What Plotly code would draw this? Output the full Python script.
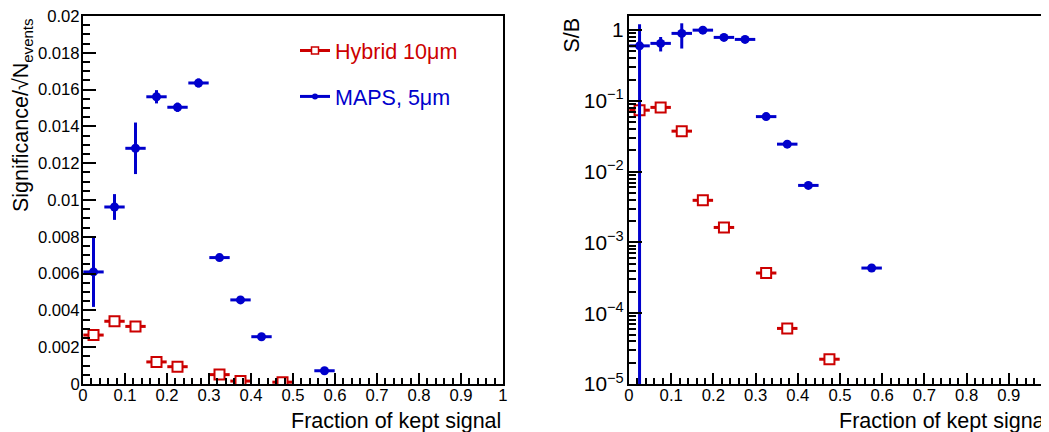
import plotly.graph_objects as go

# ---- data ----
x_half = 0.025

# Significance / sqrt(N_events)
maps_sig_x = [0.025, 0.075, 0.125, 0.175, 0.225, 0.275, 0.325, 0.375, 0.425, 0.575]
maps_sig = [0.00609, 0.00962, 0.01281, 0.01561, 0.01504, 0.01636, 0.00687, 0.00457, 0.00257, 0.00072]
maps_sig_err = [0.0019, 0.0007, 0.0014, 0.00036, 0.00025, 0.00024, 0.0001, 0.0001, 0.0001, 0.0001]

hyb_sig_x = [0.025, 0.075, 0.125, 0.175, 0.225, 0.325, 0.375, 0.475]
hyb_sig = [0.00266, 0.00341, 0.00313, 0.00120, 0.00094, 0.00051, 0.00016, 0.00010]
hyb_sig_err = [0.0001, 0.0001, 0.0001, 0.0001, 0.0001, 0.0001, 0.00005, 0.00005]

# S/B
maps_sb_x = [0.025, 0.075, 0.125, 0.175, 0.225, 0.275, 0.325, 0.375, 0.425, 0.575]
maps_sb = [0.60, 0.65, 0.90, 1.00, 0.79, 0.74, 0.060, 0.0245, 0.0064, 0.000435]
maps_sb_err = [0.61, 0.15, 0.35, 0.05, 0.03, 0.03, 0.002, 0.0008, 0.0002, 0.00001]

hyb_sb_x = [0.025, 0.075, 0.125, 0.175, 0.225, 0.325, 0.375, 0.475]
hyb_sb = [0.074, 0.081, 0.0374, 0.00394, 0.00163, 0.00037, 0.000061, 0.0000224]
hyb_sb_err = [0.002, 0.002, 0.001, 0.0001, 0.00004, 0.00001, 0.000002, 0.000001]

RED = "#cc0000"
BLUE = "#0000cc"
FONT = "Liberation Sans, Arial, sans-serif"

# the page body adds an 8 px offset; layout below is in window pixels
OFF = 8
W, H = 1049 - OFF, 432 - OFF
L1, R1 = 83, 503
L2, R2 = 629, 1049
TOP, BOT = 16, 384


def fx(px):
    return (px - OFF) / W


def fy(px):
    return (BOT - px) / (BOT - TOP)


fig = go.Figure()


def add_series(x, y, err, xa, ya, color, symbol):
    marker = (dict(symbol="circle", size=9, color=color)
              if symbol == "circle" else
              dict(symbol="square", size=10, color="white", line=dict(color=color, width=2)))
    fig.add_trace(go.Scatter(
        x=x, y=y, mode="markers", xaxis=xa, yaxis=ya, showlegend=False,
        marker=marker,
        error_x=dict(type="constant", value=x_half * 0.97, thickness=3, width=0, color=color),
        error_y=dict(type="data", array=err, thickness=3, width=0, color=color),
        cliponaxis=True,
    ))


add_series(hyb_sig_x, hyb_sig, hyb_sig_err, "x", "y", RED, "square")
add_series(maps_sig_x, maps_sig, maps_sig_err, "x", "y", BLUE, "circle")
add_series(hyb_sb_x, hyb_sb, hyb_sb_err, "x2", "y2", RED, "square")
add_series(maps_sb_x, maps_sb, maps_sb_err, "x2", "y2", BLUE, "circle")

# legend entries
fig.add_trace(go.Scatter(x=[None], y=[None], mode="lines+markers",
                         name=f'<span style="color:{RED}">Hybrid 10μm</span>',
                         legendgroup="a",
                         line=dict(color=RED, width=3),
                         marker=dict(symbol="square", size=7, color="white", line=dict(color=RED, width=1.5))))
fig.add_trace(go.Scatter(x=[None], y=[None], mode="lines+markers",
                         name=f'<span style="color:{BLUE}">MAPS, 5μm</span>',
                         legendgroup="b",
                         line=dict(color=BLUE, width=3),
                         marker=dict(symbol="circle", size=6, color=BLUE)))

axis_common = dict(
    showgrid=False, zeroline=False, showline=True, linecolor="black", linewidth=2,
    mirror=True, ticks="inside", tickcolor="black", tickwidth=2,
    ticklabeloverflow="allow",
    tickfont=dict(family=FONT, size=16.7, color="black"),
)

fig.update_layout(
    width=W, height=H,
    margin=dict(l=0, r=0, t=TOP - OFF, b=(H + OFF) - BOT, autoexpand=False),
    paper_bgcolor="white", plot_bgcolor="white",
    font=dict(family=FONT, color="black"),
    xaxis=dict(domain=[fx(L1), fx(R1)], range=[0, 1], dtick=0.1, tick0=0, ticklen=11,
               ticklabelstandoff=-5,
               minor=dict(dtick=0.02, ticks="inside", ticklen=6, tickcolor="black", tickwidth=1.5),
               anchor="y", **axis_common),
    yaxis=dict(domain=[0, 1], range=[0, 0.02], dtick=0.002, tick0=0, ticklen=13,
               ticklabelstandoff=-2,
               minor=dict(dtick=0.0005, ticks="inside", ticklen=7, tickcolor="black", tickwidth=1.5),
               anchor="x", **axis_common),
    xaxis2=dict(domain=[fx(L2), 1.0], range=[0, 0.9953], dtick=0.1, tick0=0, ticklen=11,
                ticklabelstandoff=-5,
                minor=dict(dtick=0.02, ticks="inside", ticklen=6, tickcolor="black", tickwidth=1.5),
                anchor="y2", **axis_common),
    yaxis2=dict(domain=[0, 1], type="log", range=[-5, 0.2], dtick=1, ticklen=13,
                exponentformat="power", showexponent="all",
                minor=dict(ticks="inside", ticklen=7, tickcolor="black", tickwidth=1.5, dtick="D1"),
                anchor="x2", **axis_common),
    legend=dict(x=fx(295), y=fy(30), xanchor="left", yanchor="top",
                bgcolor="rgba(0,0,0,0)", borderwidth=0,
                font=dict(family=FONT, size=21.5),
                tracegroupgap=15, traceorder="grouped"),
)

ann = [
    dict(text="Fraction of kept signal", x=fx(R1), y=fy(421), xanchor="right", yanchor="middle"),
    dict(text="Fraction of kept signal", x=fx(1051), y=fy(421), xanchor="right", yanchor="middle"),
    dict(text="Significance/√N<sub>events</sub>", x=fx(22), y=1.0, xanchor="center", yanchor="top",
         textangle=-90),
    dict(text="S/B", x=fx(571), y=1.0, xanchor="center", yanchor="top", textangle=-90),
    dict(text="1", x=fx(1051), y=fy(396), xanchor="center", yanchor="middle",
         font=dict(family=FONT, size=16.7, color="black")),
]
for a in ann:
    a.setdefault("font", dict(family=FONT, size=21.5, color="black"))
    fig.add_annotation(xref="paper", yref="paper", showarrow=False, **a)

fig.write_html("out.html")
